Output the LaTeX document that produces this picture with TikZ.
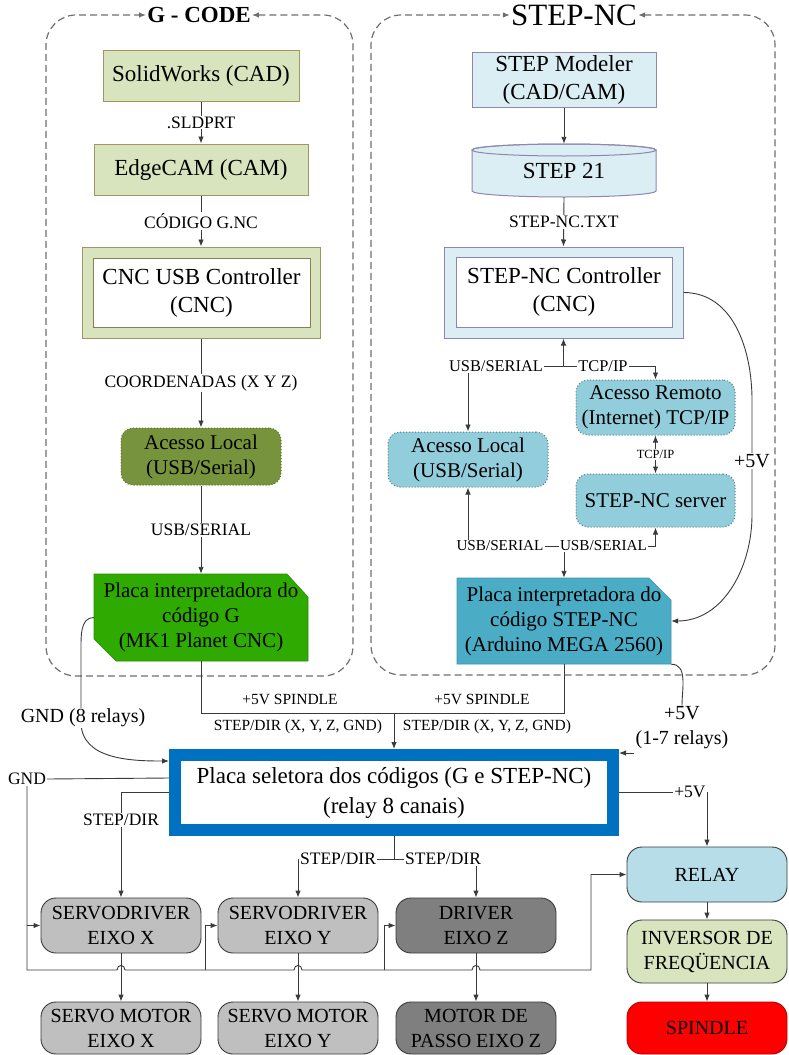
\documentclass[tikz,border=0pt]{standalone}
\usepackage{fontspec}
\setmainfont{Liberation Serif}
\usetikzlibrary{arrows.meta,calc}

\definecolor{olivefill}{HTML}{D7E4BD}
\definecolor{olivedraw}{HTML}{A3955E}
\definecolor{olivedark}{HTML}{77933C}
\definecolor{gcodegreen}{HTML}{2FAA00}
\definecolor{paleblue}{HTML}{DBEEF4}
\definecolor{bluedraw}{HTML}{8E86AE}
\definecolor{midblue}{HTML}{92CDDC}
\definecolor{stepteal}{HTML}{4BACC6}
\definecolor{selblue}{HTML}{0070C0}
\definecolor{devgray}{HTML}{BFBFBF}
\definecolor{devdark}{HTML}{7F7F7F}
\definecolor{relayblue}{HTML}{B7DEE8}
\definecolor{spindlered}{HTML}{FF0000}
\definecolor{wire}{HTML}{3A3A3A}
\definecolor{framegray}{HTML}{6E6E6E}

\newcommand\fmain{\fontsize{23}{28}\selectfont}
\newcommand\fnode{\fontsize{21}{25}\selectfont}
\newcommand\flabel{\fontsize{17.5}{21}\selectfont}
\newcommand\fsusb{\fontsize{16.4}{20}\selectfont}
\newcommand\fsusbl{\fontsize{15.2}{19}\selectfont}
\newcommand\fsmall{\fontsize{15.5}{19}\selectfont}
\newcommand\ftiny{\fontsize{12.5}{15}\selectfont}
\newcommand\fdev{\fontsize{20}{25}\selectfont}
\newcommand\fsel{\fontsize{23}{30}\selectfont}
\newcommand\fside{\fontsize{20}{25}\selectfont}

\tikzset{
  tip/.tip={Latex[length=7pt,width=5.5pt]},
  box/.style={draw, line width=1pt, inner sep=0pt, align=center, font=\fmain},
  olivebox/.style={box, fill=olivefill, draw=olivedraw},
  bluebox/.style={box, fill=paleblue, draw=bluedraw},
  innerbox/.style={box, fill=white},
  access/.style={draw, dotted, line width=1pt, rounded corners=12pt, align=center,
                 inner sep=0pt, font=\fnode},
  device/.style={draw=wire, line width=0.9pt, rounded corners=15pt, align=center,
                 inner sep=0pt, font=\fdev, minimum width=160pt},
  wirelabel/.style={fill=white, inner sep=1pt, font=\flabel},
  conn/.style={draw=wire, line width=0.9pt},
  arr/.style={conn, -tip},
  darr/.style={conn, tip-tip},
  frame/.style={draw=framegray, dash pattern=on 7pt off 4pt, line width=1.2pt,
                rounded corners=30pt, tip-tip},
}

\begin{document}
\begin{tikzpicture}[x=1pt,y=-1pt]
\useasboundingbox (0,0) rectangle (788,1055);

% ---------- group frames
\node[font=\bfseries\fontsize{23}{28}\selectfont, inner sep=1pt] (gtitle) at (199,15) {G - CODE};
\draw[frame] (gtitle.east) -- (353,15) -- (353,676) -- (46,676) -- (46,15) -- (gtitle.west);
\node[font=\fontsize{31}{36}\selectfont, inner sep=1pt] (stitle) at (574,15) {STEP-NC};
\draw[frame] (stitle.east) -- (775,15) -- (775,675) -- (371,675) -- (371,15) -- (stitle.west);

% ---------- G-code chain
\node[olivebox, minimum width=196pt, minimum height=51pt] (sw) at (201,75.5) {SolidWorks (CAD)};
\node[olivebox, minimum width=214pt, minimum height=51pt] (ec) at (201,169.5) {EdgeCAM (CAM)};
\node[olivebox, minimum width=238pt, minimum height=91pt] (cnc) at (201,292.5) {};
\node[innerbox, draw=olivedraw!85!black, minimum width=217pt, minimum height=69pt] (cncin) at (201.5,292.5) {CNC USB Controller\\(CNC)};
\node[access, fill=olivedark, draw=olivedark!75!black, minimum width=160pt, minimum height=57pt] (acg) at (201,456.5) {Acesso Local\\(USB/Serial)};
\filldraw[fill=gcodegreen, draw=gcodegreen!85!black, line width=0.6pt]
  (94,574) -- (287,574) -- (308,597) -- (308,661) -- (116,661) -- (94,639) -- cycle;
\node[align=center, font=\fnode, minimum width=214pt, minimum height=87pt, inner sep=0pt] (pg) at (201,617.5) {Placa interpretadora do\\código G\\(MK1 Planet CNC)};

\draw[arr] (sw.south) -- node[wirelabel] {.SLDPRT} (ec.north);
\draw[arr] (ec.south) -- node[wirelabel] {CÓDIGO G.NC} (cnc.north);
\draw[arr] (cnc.south) -- node[wirelabel] {COORDENADAS (X Y Z)} (acg.north);
\draw[arr] (acg.south) -- node[wirelabel] {USB/SERIAL} (pg.north);

% ---------- STEP-NC chain
\node[bluebox, minimum width=184pt, minimum height=55pt] (mod) at (564,79.5) {STEP Modeler\\(CAD/CAM)};
\filldraw[fill=paleblue, draw=bluedraw, line width=1pt]
  (472,150) -- (472,191) arc[start angle=180, end angle=360, x radius=92pt, y radius=6pt]
  -- (656,150) arc[start angle=0, end angle=180, x radius=92pt, y radius=6pt] -- cycle;
\draw[bluedraw, line width=1pt] (564,150) ellipse [x radius=92pt, y radius=6pt];
\node[font=\fmain, minimum width=184pt, minimum height=53pt, inner sep=0pt] (st21) at (564,170.5) {STEP 21};
\node[bluebox, minimum width=239pt, minimum height=91pt] (ctrl) at (563.5,292.5) {};
\node[innerbox, draw=bluedraw, minimum width=216pt, minimum height=70pt] (ctrlin) at (564,292) {STEP-NC Controller\\(CNC)};
\node[access, fill=midblue, draw=midblue!60!black, minimum width=159pt, minimum height=55pt] (rem) at (655.5,407.5) {Acesso Remoto\\(Internet) TCP/IP};
\node[access, fill=midblue, draw=midblue!60!black, minimum width=159pt, minimum height=53pt] (srv) at (655.5,500.5) {STEP-NC server};
\node[access, fill=midblue, draw=midblue!60!black, minimum width=160pt, minimum height=55pt] (acl) at (468,459.5) {Acesso Local\\(USB/Serial)};
\filldraw[fill=stepteal, draw=stepteal!85!black, line width=0.6pt]
  (457,578) -- (649,578) -- (671,600) -- (671,664) -- (457,664) -- cycle;
\node[align=center, font=\fnode, minimum width=214pt, minimum height=86pt, inner sep=0pt] (ps) at (564,621) {Placa interpretadora do\\código STEP-NC\\(Arduino MEGA 2560)};

\draw[arr] (mod.south) -- (st21.north);
\draw[arr] (st21.south) -- node[wirelabel] {STEP-NC.TXT} (ctrl.north);

\coordinate (j1) at (563.5,366);
\draw[arr] (j1) -- (ctrl.south);
\draw[arr] (j1) -| (acl.north);
\draw[arr] (j1) -| (rem.north);
\node[wirelabel, font=\fsusb] (lu1) at (496,366) {USB/SERIAL};
\node[wirelabel, font=\fsusb] (lt1) at (603,366) {TCP/IP};
\draw[darr] (rem.south) -- node[wirelabel, font=\ftiny] {TCP/IP} (srv.north);

\coordinate (j2) at (564,546);
\draw[arr] (j2) -- (ps.north);
\draw[arr] (j2) -| (acl.south);
\draw[arr] (j2) -| (srv.south);
\node[wirelabel, font=\fsusbl] (lu2) at (500,546) {USB/SERIAL};
\node[wirelabel, font=\fsusbl] (lu3) at (603.5,546) {USB/SERIAL};

\draw[arr] (ctrl.east) to[out=0, in=90] (752,400) -- (752,515) to[out=-90, in=0] (ps.east);
\node[wirelabel, font=\fside] (v5a) at (752,461) {+5V};

% ---------- code selector board
\node[draw=selblue, line width=12pt, fill=white, minimum width=438pt, minimum height=75pt,
      inner sep=0pt, align=center, font=\fsel] (sel) at (394,792.5)
      {Placa seletora dos códigos (G e STEP-NC)\\(relay 8 canais)};

\coordinate (sp) at (394,713);
\draw[conn] (pg.south) |- (sp);
\draw[conn] (ps.south) |- (sp);
\draw[arr] (sp) -- (sel.north);
\node[font=\fsmall, inner sep=1pt] (s5a) at (290,699) {+5V SPINDLE};
\node[font=\fsmall, inner sep=1pt] (s5b) at (482,699) {+5V SPINDLE};
\node[font=\fsmall, inner sep=1pt] (sda) at (298,727) {STEP/DIR (X, Y, Z, GND)};
\node[font=\fsmall, inner sep=1pt] (sdb) at (487,727) {STEP/DIR (X, Y, Z, GND)};

% GND (8 relays)
\coordinate (yg8) at (0,761);
\draw[arr] (pg.west) to[out=180, in=90] (81,650) -- (81,722) to[out=-90, in=180] (sel.west |- yg8);
\node[wirelabel, font=\fside] (g8) at (83,718) {GND (8 relays)};

% +5V (1-7 relays)
\node[align=center, font=\fside, inner sep=1pt, fill=white] (r17) at (682,728) {+5V\\(1-7 relays)};
\draw[conn] (ps.south east) to[out=0, in=90] (r17.north);
\coordinate (y17) at (0,753);
\draw[arr] (r17.west |- y17) -- (sel.east |- y17);

% ---------- drives and spindle
\node[device, fill=devgray, minimum height=55pt] (sdx) at (121,925.5) {SERVODRIVER\\EIXO X};
\node[device, fill=devgray, minimum height=55pt] (sdy) at (298,925.5) {SERVODRIVER\\EIXO Y};
\node[device, fill=devdark, minimum height=55pt] (drz) at (476,925.5) {DRIVER\\EIXO Z};
\node[device, fill=devgray, minimum height=52pt] (smx) at (121,1028) {SERVO MOTOR\\EIXO X};
\node[device, fill=devgray, minimum height=52pt] (smy) at (298,1028) {SERVO MOTOR\\EIXO Y};
\node[device, fill=devdark, minimum height=52pt] (mpz) at (476,1028) {MOTOR DE\\PASSO EIXO Z};
\node[device, fill=relayblue, minimum height=55pt] (relay) at (707,874.5) {RELAY};
\node[device, fill=olivefill, minimum height=63pt] (inv) at (707,951.5) {INVERSOR DE\\FREQÜENCIA};
\node[device, fill=spindlered, draw=spindlered!70!black, minimum height=52pt] (spd) at (707,1028) {SPINDLE};

% ground line and bus
\coordinate (ygnd) at (0,778);
\node[font=\flabel, inner sep=1pt] (gnd) at (27,779) {GND};
\draw[conn] (sel.west |- ygnd) -- (gnd.east);
\coordinate (busL) at (27,970);
\coordinate (busY) at (205,970);
\coordinate (busZ) at (384,970);
\draw[arr] (gnd.south) -- (busL) -- (117,970) .. controls (117,964) and (125,964) .. (125,970)
  -- (294,970) .. controls (294,964) and (302,964) .. (302,970)
  -- (472,970) .. controls (472,964) and (480,964) .. (480,970)
  -- (591,970) |- (relay.west);
\draw[arr] (busL |- sdx.west) -- (sdx.west);
\draw[arr] (busY) |- (sdy.west);
\draw[arr] (busZ) |- (drz.west);

% step/dir lines
\draw[arr] (sel.west) -| (sdx.north);
\node[wirelabel] (sdl) at (121,820) {STEP/DIR};
\coordinate (bj) at (394,859);
\draw[conn] (sel.south) -- (bj);
\draw[arr] (bj) -| (sdy.north);
\draw[arr] (bj) -| (drz.north);
\node[wirelabel] (sdm) at (338,859) {STEP/DIR};
\node[wirelabel] (sdr) at (443,859) {STEP/DIR};

% +5V to relay
\draw[arr] (sel.east) -| (relay.north);
\node[wirelabel] (v5r) at (690,792) {+5V};

% drive to motor, spindle chain
\draw[arr] (sdx.south) -- (smx.north);
\draw[arr] (sdy.south) -- (smy.north);
\draw[arr] (drz.south) -- (mpz.north);
\draw[arr] (relay.south) -- (inv.north);
\draw[arr] (inv.south) -- (spd.north);
\end{tikzpicture}
\end{document}
